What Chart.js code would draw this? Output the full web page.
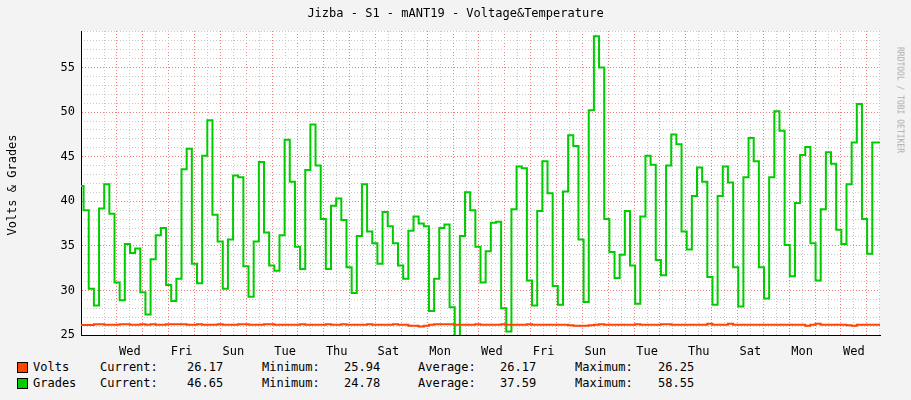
<!DOCTYPE html>
<html>
<head>
<meta charset="utf-8">
<script src="https://cdn.jsdelivr.net/npm/chart.js@4"></script>
<style>
    body { margin: 0; background: #f3f3f3; }
    #wrap { position: relative; width: 911px; height: 400px; font-family: "DejaVu Sans Mono", monospace; font-size: 12px; color: #000; }
    #title { position: absolute; top: 6px; left: 0; width: 911px; text-align: center; }
    #ylab { position: absolute; left: 12px; top: 185px; transform: translate(-50%, -50%) rotate(-90deg); white-space: nowrap; }
    #rrd { position: absolute; left: 900px; top: 100px; transform: translate(-50%, -50%) rotate(90deg); white-space: nowrap; font-size: 8px; color: #aaa; }
    .lg { position: absolute; white-space: pre; }
    .sw { position: absolute; width: 9px; height: 9px; border: 1px solid #000; }
    canvas { position: absolute; left: 0; top: 0; }
</style>
</head>
<body>
<div id="wrap">
    <canvas id="chart" width="911" height="360"></canvas>
    <div id="title">Jizba - S1 - mANT19 - Voltage&amp;Temperature</div>
    <div id="ylab">Volts &amp; Grades</div>
    <div id="rrd">RRDTOOL / TOBI OETIKER</div>
    <div id="legend"></div>
</div>
<script>
// time span of the graph in days, first midnight after start
const spanDays = 30.9;
const firstMidnight = 1.39;
const dayLabels = ["Wed", "Fri", "Sun", "Tue", "Thu", "Sat", "Mon", "Wed", "Fri", "Sun", "Tue", "Thu", "Sat", "Mon", "Wed"];

const grades = [
    41.7, 39, 30.2, 28.3, 39.2, 41.9, 38.6, 30.9, 28.9, 35.2,
    34.2, 34.7, 29.8, 27.3, 33.5, 36.2, 37, 30.6, 28.8, 31.3,
    43.6, 45.9, 33, 30.8, 45.1, 49.1, 38.5, 35.5, 30.2, 35.7,
    42.9, 42.7, 32.7, 29.3, 35.5, 44.4, 36.5, 32.8, 32.2, 36.2,
    46.9, 42.2, 34.9, 32.4, 43.5, 48.6, 44, 38, 32.4, 39.5,
    40.3, 37.9, 32.6, 29.7, 36.1, 41.9, 36.6, 35.3, 33, 38.8,
    37.2, 35.3, 32.8, 31.3, 36.7, 38.3, 37.5, 37.2, 27.7, 31.3,
    37, 37.4, 28.1, 24.8, 36.1, 41, 39, 34.9, 30.9, 34.4,
    37.6, 37.7, 28, 25.4, 39.1, 43.9, 43.7, 31.1, 28.3, 38.9,
    44.5, 40.9, 30.5, 28.4, 41.1, 47.4, 46.2, 35.7, 28.7, 50.2,
    58.5, 55, 38, 34.3, 31.4, 34, 38.9, 32.8, 28.5, 38.3,
    45.1, 44.1, 33.4, 31.7, 44, 47.5, 46.4, 36.6, 34.6, 40.6,
    43.8, 42.2, 31.5, 28.4, 40.6, 43.9, 42.1, 32.6, 28.2, 42.7,
    47.1, 44.5, 32.6, 29.1, 42.7, 50.1, 47.9, 35.1, 31.6, 39.8,
    45.2, 46.1, 35.3, 31.1, 39.1, 45.5, 44.2, 36.8, 35.2, 41.9,
    46.6, 50.9, 38, 34.1, 46.6, 46.6
];

const volts = [
    26.12, 26.12, 26.12, 26.2, 26.2, 26.15, 26.15, 26.15, 26.2, 26.2,
    26.15, 26.15, 26.2, 26.15, 26.2, 26.15, 26.15, 26.2, 26.2, 26.2,
    26.2, 26.15, 26.15, 26.2, 26.15, 26.15, 26.15, 26.2, 26.15, 26.15,
    26.15, 26.2, 26.2, 26.15, 26.15, 26.15, 26.2, 26.2, 26.15, 26.15,
    26.15, 26.15, 26.15, 26.2, 26.15, 26.15, 26.15, 26.15, 26.2, 26.15,
    26.15, 26.2, 26.15, 26.15, 26.15, 26.15, 26.2, 26.15, 26.15, 26.15,
    26.15, 26.2, 26.15, 26.15, 26.05, 26.05, 25.94, 26.05, 26.15, 26.2,
    26.2, 26.2, 26.2, 26.15, 26.15, 26.15, 26.15, 26.2, 26.15, 26.15,
    26.15, 26.15, 26.2, 26.15, 26.15, 26.15, 26.15, 26.2, 26.15, 26.15,
    26.15, 26.15, 26.15, 26.15, 26.15, 26.1, 26.05, 26.05, 26.05, 26.1,
    26.15, 26.2, 26.15, 26.15, 26.15, 26.15, 26.15, 26.15, 26.2, 26.15,
    26.15, 26.15, 26.15, 26.2, 26.2, 26.15, 26.15, 26.15, 26.15, 26.15,
    26.15, 26.15, 26.25, 26.15, 26.15, 26.15, 26.25, 26.15, 26.15, 26.15,
    26.15, 26.15, 26.15, 26.15, 26.15, 26.15, 26.15, 26.15, 26.15, 26.15,
    26.15, 26.05, 26.15, 26.25, 26.15, 26.15, 26.15, 26.15, 26.15, 26.1,
    26.05, 26.15, 26.15, 26.15, 26.15, 26.15
];

const legendRows = [
    { name: "Volts", color: "#ff4400", cur: "26.17", min: "25.94", avg: "26.17", max: "26.25" },
    { name: "Grades", color: "#00cc00", cur: "46.65", min: "24.78", avg: "37.59", max: "58.55" }
];

function toPoints(values) {
    return values.map((v, i) => ({ x: i * spanDays / (values.length - 1), y: v }));
}

function fixedTicks(start, step, end) {
    const ticks = [];
    for (let v = start; v <= end + 1e-9; v += step) ticks.push({ value: v });
    return ticks;
}

const monoFont = { family: "DejaVu Sans Mono", size: 12 };

new Chart(document.getElementById("chart"), {
    type: "line",
    data: {
        datasets: [
            { label: "Volts", data: toPoints(volts), borderColor: "#ff4400", borderWidth: 2, pointRadius: 0, stepped: "middle" },
            { label: "Grades", data: toPoints(grades), borderColor: "#00cc00", borderWidth: 2, pointRadius: 0, stepped: "middle" }
        ]
    },
    options: {
        responsive: false,
        animation: false,
        layout: { padding: { top: 31, right: 31, left: 0, bottom: 0 } },
        plugins: { legend: { display: false }, tooltip: { enabled: false } },
        scales: {
            x: {
                type: "linear", min: 0, max: spanDays, position: "bottom",
                // 12 hour minor grid (noons)
                afterBuildTicks: (s) => { s.ticks = fixedTicks(firstMidnight - 0.5, 1, spanDays); },
                ticks: { display: false },
                grid: { color: "#c8c8c8", drawTicks: false },
                border: { display: false, dash: [1, 2] },
                afterFit: (s) => { s.height = 0; }
            },
            xMajor: {
                type: "linear", min: 0, max: spanDays, position: "bottom",
                afterBuildTicks: (s) => { s.ticks = fixedTicks(firstMidnight, 1, spanDays); },
                ticks: { display: false },
                grid: { color: "#f08080", drawTicks: false },
                border: { display: false, dash: [1, 2] },
                afterFit: (s) => { s.height = 0; }
            },
            xLabel: {
                type: "linear", min: 0, max: spanDays, position: "bottom",
                afterBuildTicks: (s) => { s.ticks = fixedTicks(firstMidnight + 0.5, 2, spanDays); },
                ticks: { color: "#000", font: monoFont, maxRotation: 0, autoSkip: false, padding: 2, callback: (v, i) => dayLabels[i] },
                grid: { display: false },
                border: { color: "#000", width: 1 },
                afterFit: (s) => { s.height = 25; }
            },
            yMinor: {
                min: 25, max: 59.1, position: "left",
                afterBuildTicks: (s) => { s.ticks = fixedTicks(26, 1, 59).filter((t) => t.value % 5 !== 0); },
                ticks: { display: false },
                grid: { color: "#c8c8c8", drawTicks: false },
                border: { display: false, dash: [1, 2] },
                afterFit: (s) => { s.width = 0; }
            },
            y: {
                min: 25, max: 59.1,
                afterBuildTicks: (s) => { s.ticks = fixedTicks(25, 5, 55); },
                ticks: { color: "#000", font: monoFont, padding: 6 },
                grid: { color: "#f08080", drawTicks: false },
                border: { color: "#000", width: 1, dash: [1, 2] },
                afterFit: (s) => { s.width = 81; }
            }
        }
    },
    plugins: [{
        id: "plotBackground",
        beforeDraw: (chart) => {
            const c = chart.ctx, a = chart.chartArea;
            c.save();
            c.fillStyle = "#ffffff";
            c.fillRect(a.left, a.top, a.right - a.left, a.bottom - a.top);
            c.restore();
        }
    }]
});

// legend rows under the graph
const legend = document.getElementById("legend");
legendRows.forEach((row, r) => {
    const top = 360 + r * 16;
    legend.insertAdjacentHTML("beforeend",
        `<div class="sw" style="left:17px;top:${top + 2}px;background:${row.color}"></div>` +
        `<div class="lg" style="left:33px;top:${top}px">${row.name}</div>` +
        `<div class="lg" style="left:100px;top:${top}px">Current:</div>` +
        `<div class="lg" style="left:187px;top:${top}px">${row.cur}</div>` +
        `<div class="lg" style="left:262px;top:${top}px">Minimum:</div>` +
        `<div class="lg" style="left:344px;top:${top}px">${row.min}</div>` +
        `<div class="lg" style="left:418px;top:${top}px">Average:</div>` +
        `<div class="lg" style="left:500px;top:${top}px">${row.avg}</div>` +
        `<div class="lg" style="left:575px;top:${top}px">Maximum:</div>` +
        `<div class="lg" style="left:658px;top:${top}px">${row.max}</div>`);
});
</script>
</body>
</html>
